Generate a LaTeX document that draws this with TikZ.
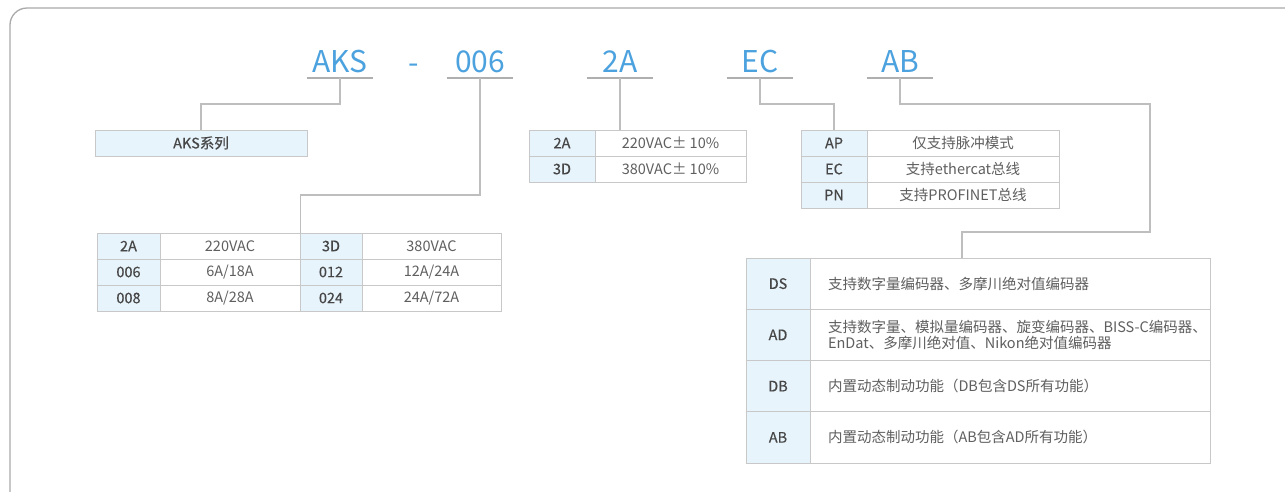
\documentclass[tikz,border=0pt]{standalone}
\usepackage{fontspec}
\setmainfont{Noto Sans CJK SC}
\newfontfamily\medfont[FakeBold=0.35]{Noto Sans CJK SC}
\definecolor{bluec}{RGB}{76,162,222}
\definecolor{hdfill}{RGB}{232,244,252}
\definecolor{bordc}{RGB}{200,200,200}
\definecolor{connc}{RGB}{190,190,190}
\definecolor{ulc}{RGB}{175,175,175}
\definecolor{framec}{RGB}{170,170,170}
\definecolor{codec}{RGB}{70,70,70}
\definecolor{valc}{RGB}{95,95,95}
\begin{document}
\begin{tikzpicture}[x=1pt,y=-1pt,
  cellfont/.style={font=\fontsize{14.5}{15.5}\selectfont},
  hd/.style={font=\fontsize{14.5}{15.5}\medfont, draw=bordc, line width=0.9pt, fill=hdfill, minimum height=26pt, inner sep=0pt, text=codec},
  val/.style={cellfont, draw=bordc, line width=0.9pt, fill=white, minimum height=26pt, inner sep=0pt, text=valc},
  evl/.style={cellfont, draw=bordc, line width=0.9pt, fill=white, minimum height=51.25pt, text width=364pt, inner xsep=18pt, inner ysep=0pt, align=left, text=valc},
  bluetext/.style={text=bluec, font=\fontsize{30}{32}\selectfont},
  uline/.style={draw=ulc, line width=1.3pt},
  code/.style={bluetext, minimum width=66pt, inner xsep=0pt, inner ysep=5pt, text depth=0pt, anchor=south,
    append after command={(\tikzlastnode.south west) edge[uline] (\tikzlastnode.south east)}},
  conn/.style={draw=connc, line width=1.2pt}]
\useasboundingbox (0,0) rectangle (1285,491);
\fill[white] (0,0) rectangle (1285,491);
\begin{scope}
  \clip (0,0) rectangle (1285,491);
  \draw[framec, line width=1.3pt, rounded corners=17pt] (10,8) rectangle (1330,540);
\end{scope}

% code letters
\node[code] (kAKS) at (340,78) {AKS};
\node[bluetext, inner sep=0pt, anchor=base] (dash) at (414,73) {-};
\node[code] (k006) at (480,78) {006};
\node[code] (k2A) at (620,78) {2A};
\node[code] (kEC) at (760,78) {EC};
\node[code] (kAB) at (900,78) {AB};

% series box
\node[hd, minimum width=212pt] (aks) at (201,143) {AKS系列};

% power table
\node[hd, minimum width=63pt] (p11) at (128.5,246) {2A};
\node[val, minimum width=140pt] (p12) at (230,246) {220VAC};
\node[hd, minimum width=62pt] (p13) at (331,246) {3D};
\node[val, minimum width=139pt] (p14) at (431.5,246) {380VAC};
\node[hd, minimum width=63pt] (p21) at (128.5,272) {006};
\node[val, minimum width=140pt] (p22) at (230,272) {6A/18A};
\node[hd, minimum width=62pt] (p23) at (331,272) {012};
\node[val, minimum width=139pt] (p24) at (431.5,272) {12A/24A};
\node[hd, minimum width=63pt] (p31) at (128.5,298) {008};
\node[val, minimum width=140pt] (p32) at (230,298) {8A/28A};
\node[hd, minimum width=62pt] (p33) at (331,298) {024};
\node[val, minimum width=139pt] (p34) at (431.5,298) {24A/72A};

% voltage table
\node[hd, minimum width=66pt] (v11) at (562,143) {2A};
\node[val, minimum width=151pt] (v12) at (670.5,143) {220VAC± 10\%};
\node[hd, minimum width=66pt] (v21) at (562,169) {3D};
\node[val, minimum width=151pt] (v22) at (670.5,169) {380VAC± 10\%};

% comm table
\node[hd, minimum width=66pt] (c11) at (834,143) {AP};
\node[val, minimum width=192pt] (c12) at (963,143) {仅支持脉冲模式};
\node[hd, minimum width=66pt] (c21) at (834,169) {EC};
\node[val, minimum width=192pt] (c22) at (963,169) {支持ethercat总线};
\node[hd, minimum width=66pt] (c31) at (834,195) {PN};
\node[val, minimum width=192pt] (c32) at (963,195) {支持PROFINET总线};

% encoder table
\node[hd, minimum width=64pt, minimum height=51.25pt] (e11) at (778,283.625) {DS};
\node[evl] (e12) at (1010,283.625) {支持数字量编码器、多摩川绝对值编码器};
\node[hd, minimum width=64pt, minimum height=51.25pt] (e21) at (778,334.875) {AD};
\node[evl] (e22) at (1010,334.875) {\mbox{支持数字量、模拟量编码器、旋变编码器、BISS-C编码器、}\\\mbox{EnDat、多摩川绝对值、Nikon绝对值编码器}};
\node[hd, minimum width=64pt, minimum height=51.25pt] (e31) at (778,386.125) {DB};
\node[evl] (e32) at (1010,386.125) {内置动态制动功能（DB包含DS所有功能）};
\node[hd, minimum width=64pt, minimum height=51.25pt] (e41) at (778,437.375) {AB};
\node[evl] (e42) at (1010,437.375) {内置动态制动功能（AB包含AD所有功能）};

% connectors
\coordinate (ejoin) at (962,258);
\draw[conn] (kAKS.south) -- (340,104) -| (aks.north);
\draw[conn] (k006.south) -- (480,195) -| (p12.north east);
\draw[conn] (k2A.south) -- (k2A.south |- v12.north);
\draw[conn] (kEC.south) -- (760,104) -| (c11.north);
\draw[conn] (kAB.south) |- (1150,104) |- (962,232) -- (ejoin);
\end{tikzpicture}
\end{document}
